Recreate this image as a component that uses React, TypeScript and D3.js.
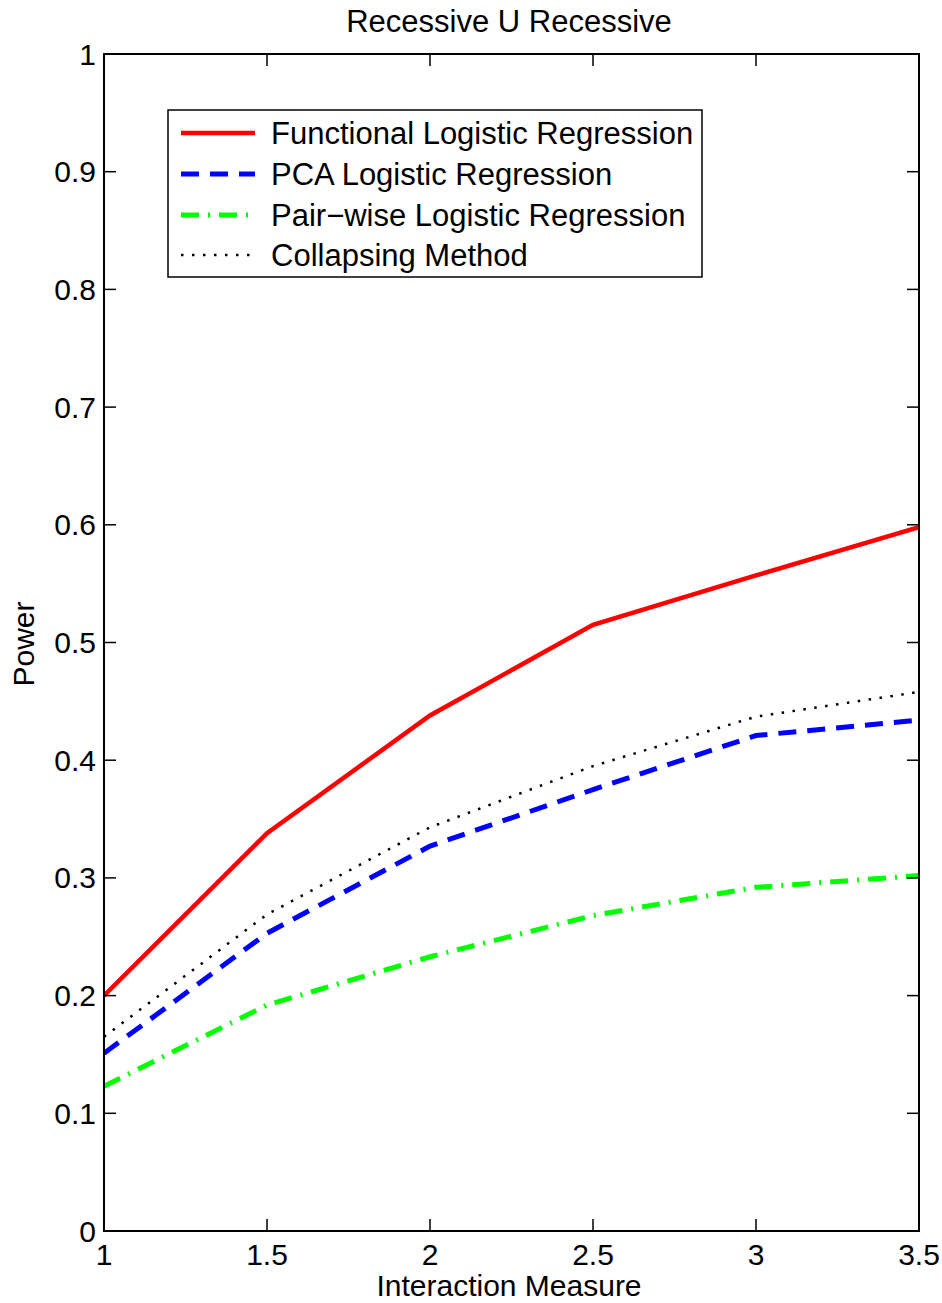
import React from "react";
import * as d3 from "d3";

const xValues = [1, 1.5, 2, 2.5, 3, 3.5];
const functionalLR = [0.2, 0.338, 0.438, 0.515, 0.557, 0.598];
const pcaLR = [0.151, 0.253, 0.327, 0.375, 0.421, 0.434];
const pairwiseLR = [0.123, 0.192, 0.233, 0.268, 0.292, 0.302];
const collapsing = [0.165, 0.269, 0.343, 0.395, 0.437, 0.458];

const xTicks = [1, 1.5, 2, 2.5, 3, 3.5];
const yTicks = [0, 0.1, 0.2, 0.3, 0.4, 0.5, 0.6, 0.7, 0.8, 0.9, 1];

const seriesNames = [
  "Functional Logistic Regression",
  "PCA Logistic Regression",
  "Pair\u2212wise Logistic Regression",
  "Collapsing Method",
];

const W = 942;
const H = 1303;
const M = { left: 104, right: 919, top: 54, bottom: 1231 };
const FONT = "'Liberation Sans', Arial, sans-serif";

const styles = [
  { color: "#ff0000", width: 4.5, dash: "none" },
  { color: "#0000ff", width: 5, dash: "18 11" },
  { color: "#00ff00", width: 5, dash: "18 9 2 9" },
  { color: "#000000", width: 2.5, dash: "2.5 8.5" },
];

export default function App() {
  const x = d3.scaleLinear().domain([1, 3.5]).range([M.left, M.right]);
  const y = d3.scaleLinear().domain([0, 1]).range([M.bottom, M.top]);
  const line = d3
    .line<number>()
    .x((_, i) => x(xValues[i]))
    .y((d) => y(d));
  const data = [functionalLR, pcaLR, pairwiseLR, collapsing];
  const tickLen = 12;

  const legend = { x: 168, y: 110, w: 534, h: 167 };
  const rowY = [133, 174, 215, 255];

  return (
    <svg width={W} height={H} style={{ position: "absolute", left: 0, top: 0, background: "#fff" }} fontFamily={FONT}>
      <rect x={0} y={0} width={W} height={H} fill="#fff" />
      <defs>
        <clipPath id="plot-clip">
          <rect x={M.left} y={M.top} width={M.right - M.left} height={M.bottom - M.top} />
        </clipPath>
      </defs>

      {/* data lines */}
      <g clipPath="url(#plot-clip)">
        {data.map((vals, i) => (
          <path
            key={i}
            d={line(vals) || ""}
            fill="none"
            stroke={styles[i].color}
            strokeWidth={styles[i].width}
            strokeDasharray={styles[i].dash}
            strokeLinejoin="miter"
          />
        ))}
      </g>

      {/* ticks, mirrored on all sides */}
      <g stroke="#000" strokeWidth={1.5}>
        {xTicks.map((t) => (
          <g key={"xt" + t}>
            <line x1={x(t)} x2={x(t)} y1={M.bottom} y2={M.bottom - tickLen} />
            <line x1={x(t)} x2={x(t)} y1={M.top} y2={M.top + tickLen} />
          </g>
        ))}
        {yTicks.map((t) => (
          <g key={"yt" + t}>
            <line x1={M.left} x2={M.left + tickLen} y1={y(t)} y2={y(t)} />
            <line x1={M.right} x2={M.right - tickLen} y1={y(t)} y2={y(t)} />
          </g>
        ))}
      </g>

      {/* axes box */}
      <rect
        x={M.left}
        y={M.top}
        width={M.right - M.left}
        height={M.bottom - M.top}
        fill="none"
        stroke="#000"
        strokeWidth={2}
      />

      {/* tick labels */}
      {xTicks.map((t) => (
        <text key={"xl" + t} x={x(t)} y={M.bottom + 34} textAnchor="middle" fontSize={30} fill="#000">
          {String(t)}
        </text>
      ))}
      {yTicks.map((t) => (
        <text key={"yl" + t} x={M.left - 8} y={y(t) + 10.5} textAnchor="end" fontSize={30} fill="#000">
          {String(t)}
        </text>
      ))}

      {/* titles */}
      <text x={509} y={32} textAnchor="middle" fontSize={31} fill="#000">
        Recessive U Recessive
      </text>
      <text x={509} y={1296} textAnchor="middle" fontSize={30} fill="#000">
        Interaction Measure
      </text>
      <text
        transform={`translate(34, 644) rotate(-90)`}
        textAnchor="middle"
        fontSize={30}
        fill="#000"
      >
        Power
      </text>

      {/* legend */}
      <rect x={legend.x} y={legend.y} width={legend.w} height={legend.h} fill="#fff" stroke="#000" strokeWidth={1.5} />
      {seriesNames.map((name, i) => (
        <g key={name}>
          <line
            x1={181}
            x2={255}
            y1={rowY[i]}
            y2={rowY[i]}
            stroke={styles[i].color}
            strokeWidth={styles[i].width}
            strokeDasharray={styles[i].dash}
          />
          <text x={271} y={rowY[i] + 11} fontSize={31} fill="#000">
            {name}
          </text>
        </g>
      ))}
    </svg>
  );
}
